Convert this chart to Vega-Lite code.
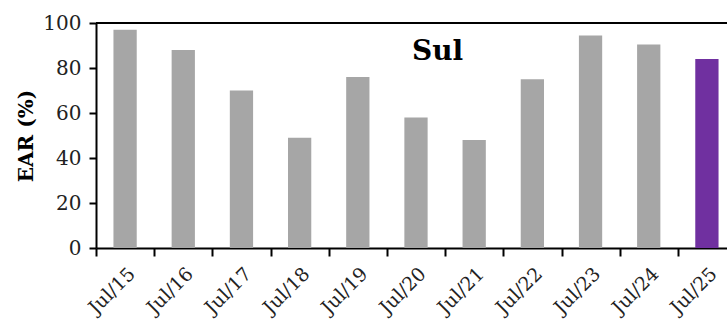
{
  "$schema": "https://vega.github.io/schema/vega-lite/v6.json",
  "autosize": "none",
  "width": 631,
  "height": 225,
  "padding": {"left": 96, "top": 23, "right": 0, "bottom": 82},
  "background": "white",
  "config": {"view": {"stroke": null}, "font": "DejaVu Serif"},
  "data": {"values": [
    {"period": "Jul/15", "ear": 97, "highlight": "no"},
    {"period": "Jul/16", "ear": 88, "highlight": "no"},
    {"period": "Jul/17", "ear": 70, "highlight": "no"},
    {"period": "Jul/18", "ear": 49, "highlight": "no"},
    {"period": "Jul/19", "ear": 76, "highlight": "no"},
    {"period": "Jul/20", "ear": 58, "highlight": "no"},
    {"period": "Jul/21", "ear": 48, "highlight": "no"},
    {"period": "Jul/22", "ear": 75, "highlight": "no"},
    {"period": "Jul/23", "ear": 94.5, "highlight": "no"},
    {"period": "Jul/24", "ear": 90.5, "highlight": "no"},
    {"period": "Jul/25", "ear": 84, "highlight": "yes"}
  ]},
  "layer": [
    {
      "mark": {"type": "bar"},
      "encoding": {
        "x": {
          "field": "period", "type": "nominal", "sort": null,
          "scale": {"range": [0, 640], "paddingInner": 0.6, "paddingOuter": 0.3},
          "axis": {
            "title": null, "labelAngle": -45, "labelFontSize": 19, "labelColor": "#222",
            "labelFont": "DejaVu Serif", "ticks": true, "tickOffset": -29, "labelOffset": 29,
            "tickSize": 8, "tickWidth": 2,
            "tickColor": "#000", "domainColor": "#000", "domainWidth": 2, "labelPadding": 8
          }
        },
        "y": {
          "field": "ear", "type": "quantitative",
          "scale": {"domain": [0, 100], "nice": false},
          "axis": {
            "title": "EAR (%)", "titleFontSize": 20, "titleFontWeight": "bold", "titleColor": "#000",
            "titleFont": "DejaVu Serif", "titlePadding": 6,
            "values": [0, 20, 40, 60, 80, 100], "grid": false,
            "labelFontSize": 20, "labelColor": "#222", "labelFont": "DejaVu Serif",
            "tickSize": 7, "tickWidth": 2, "tickColor": "#000", "domainColor": "#000", "domainWidth": 2,
            "labelPadding": 8
          }
        },
        "color": {
          "field": "highlight", "type": "nominal",
          "scale": {"domain": ["no", "yes"], "range": ["#a6a6a6", "#7030a0"]},
          "legend": null
        }
      }
    },
    {
      "mark": {"type": "rule", "color": "#000", "strokeWidth": 2},
      "encoding": {"y": {"datum": 100}}
    },
    {
      "data": {"values": [{"label": "Sul", "period": "Jul/20", "pos": 87}]},
      "mark": {"type": "text", "fontSize": 28, "fontWeight": "bold", "font": "DejaVu Serif", "color": "#000", "dx": 10},
      "encoding": {
        "x": {"field": "period", "type": "nominal", "bandPosition": 1},
        "y": {"field": "pos", "type": "quantitative"},
        "text": {"field": "label"}
      }
    }
  ]
}
